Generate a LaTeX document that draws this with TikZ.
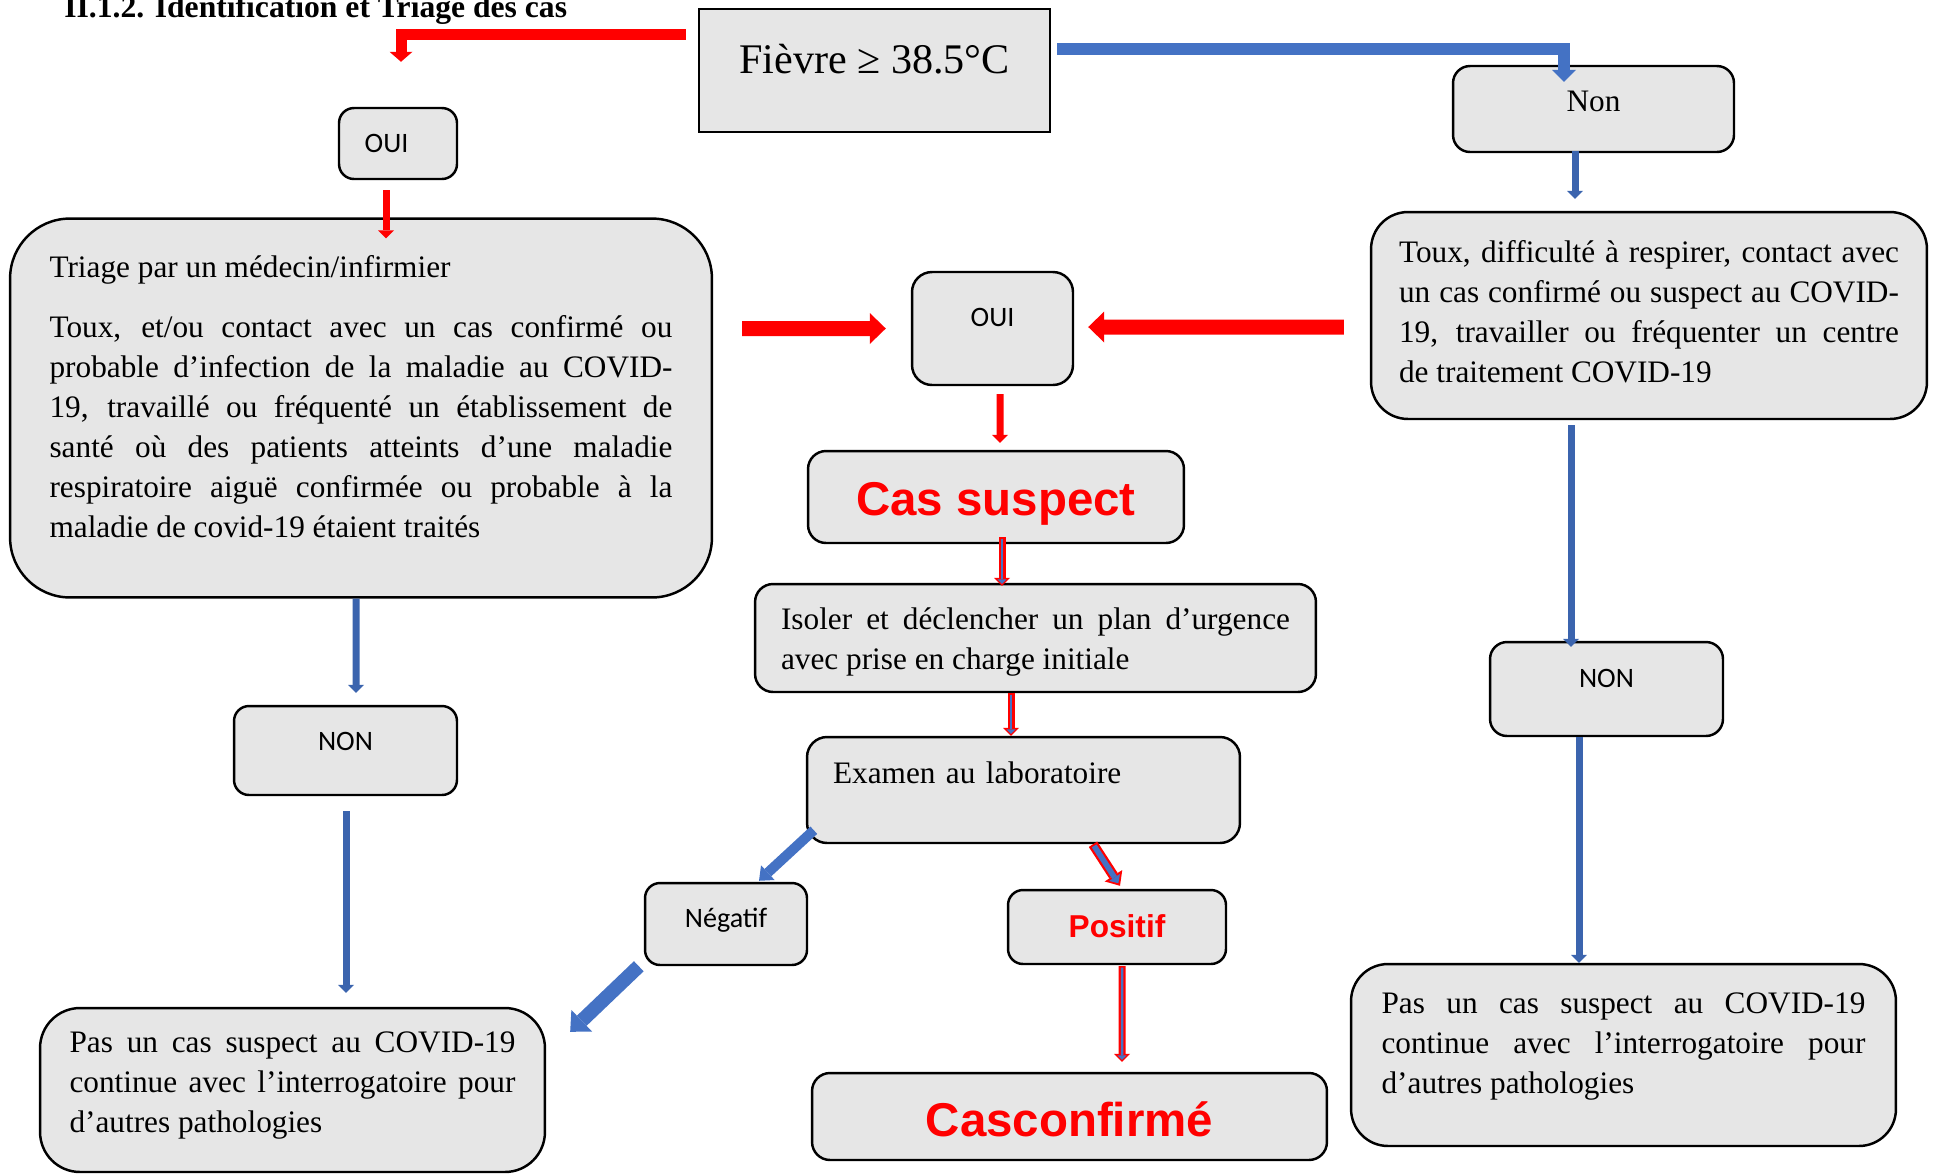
\documentclass[tikz,border=0pt]{standalone}
\usepackage{fontspec}
\setmainfont{Liberation Serif}
\newfontfamily\calibri{Carlito}
\newfontfamily\arial{Liberation Sans}
\usepackage{tikz}
\usetikzlibrary{arrows.meta, positioning, calc}
\definecolor{boxgray}{HTML}{E6E6E6}
\definecolor{arrowred}{HTML}{FF0000}
\definecolor{arrowblue}{HTML}{4472C4}
\definecolor{bluefine}{HTML}{3B64AE}
\hyphenpenalty=10000
\tolerance=10000
\tikzset{
    boite/.style={draw=black, fill=boxgray, line width=1.4pt, inner sep=0pt, rounded corners=#1},
    boite/.default=0.3cm,
    texte/.style={font=\fontsize{17.8}{22.8}\selectfont, align=justify, text height=0.44cm},
    calib/.style={font=\calibri\fontsize{16}{19}\selectfont},
    grosrouge/.style={font=\arial\bfseries\fontsize{27}{30}\selectfont, text=arrowred},
    flech/.style n args={3}{line width=#1, -{Triangle[width=#2, length=#3, line width=0pt]}},
    fine/.style={flech={0.14cm}{0.32cm}{0.16cm}},
    fat/.style={flech={0.3cm}{0.62cm}{0.32cm}},
    interieur/.style={draw=arrowblue, flech={0.05cm}{0.18cm}{0.09cm}, shorten <=0.03cm, shorten >=0.04cm}
}

\begin{document}
\begin{tikzpicture}[x=0.02cm, y=-0.02cm]
    \useasboundingbox (0,0) rectangle (1937,1174);

    \node[font=\bfseries\fontsize{18}{20}\selectfont, anchor=base west, inner sep=0pt] (titre) at (64,17) {II.1.2. Identification et Triage des cas};

    \node[boite, sharp corners, minimum width=7.02cm, minimum height=2.46cm,
          font=\fontsize{24}{29}\selectfont, text height=0.58cm, text depth=0.46cm] (fievre) at (874.5,70.3) {Fièvre ≥ 38.5°C};

    \node[boite, calib, minimum width=2.36cm, minimum height=1.42cm] (oui1) at (398,143.5) {OUI\hspace*{0.46cm}};
    \node[boite=0.34cm, minimum width=5.62cm, minimum height=1.72cm,
          font=\fontsize{17.8}{22.8}\selectfont, text height=0.41cm, text depth=0.33cm] (nontop) at (1593.5,109) {Non};

    \node[boite=1.2cm, texte, minimum width=14.04cm, minimum height=7.58cm, text width=12.46cm,
          text depth=5.68cm] (bigL) at (361,408) {
      Triage par un médecin/infirmier\par\vspace{0.4cm}
      Toux, et/ou contact avec un cas confirmé ou\linebreak probable d’infection de la maladie au COVID-\linebreak 19, travaillé ou fréquenté un établissement de\linebreak santé où des patients atteints d’une maladie\linebreak respiratoire aiguë confirmée ou probable à la\linebreak maladie de covid-19 étaient traités
    };
    \node[boite=0.74cm, texte, minimum width=11.12cm, minimum height=4.14cm, text width=10cm,
          text depth=2.56cm] (toux) at (1649,315.5) {
      Toux, difficulté à respirer, contact avec\linebreak un cas confirmé ou suspect au COVID-\linebreak 19, travailler ou fréquenter un centre\linebreak de traitement COVID-19
    };

    \node[boite=0.4cm, calib, minimum width=3.22cm, minimum height=2.26cm,
          text height=0.36cm, text depth=0.46cm] (oui2) at (992.5,328.5) {OUI};
    \node[boite=0.36cm, grosrouge, minimum width=7.52cm, minimum height=1.84cm,
          text height=0.72cm, text depth=0pt] (cassusp) at (996,497) {Cas suspect};
    \node[boite=0.36cm, texte, minimum width=11.22cm, minimum height=2.16cm, text width=10.18cm,
          text depth=0.78cm] (isoler) at (1035.5,638) {
      Isoler et déclencher un plan d’urgence\linebreak avec prise en charge initiale
    };
    \node[boite=0.4cm, minimum width=8.66cm, minimum height=2.12cm, text width=7.62cm, align=left,
          font=\fontsize{17.8}{22.8}\selectfont, text height=0.41cm, text depth=0.69cm] (examen) at (1023.5,790) {Examen au laboratoire};
    \node[boite, calib, minimum width=3.24cm, minimum height=1.64cm,
          text height=0.36cm, text depth=0.24cm] (negatif) at (726,924) {Négatif};
    \node[boite, font=\arial\bfseries\fontsize{18}{20}\selectfont, text=arrowred, minimum width=4.36cm, minimum height=1.48cm,
          text height=0.45cm, text depth=0.05cm] (positif) at (1117,927) {Positif};
    \node[boite=0.36cm, grosrouge, minimum width=10.3cm, minimum height=1.74cm,
          text height=0.78cm, text depth=0pt] (casconf) at (1069.5,1116.5) {Casconfirmé};

    \node[boite, calib, minimum width=4.46cm, minimum height=1.78cm,
          text height=0.36cm, text depth=0.38cm] (nonL) at (345.5,750.5) {NON};
    \node[boite=0.8cm, texte, minimum width=10.1cm, minimum height=3.28cm, text width=8.92cm,
          text depth=1.95cm] (pasL) at (292.5,1090) {
      Pas un cas suspect au COVID-19\linebreak continue avec l’interrogatoire pour\linebreak d’autres pathologies
    };
    \node[boite=0.34cm, calib, minimum width=4.66cm, minimum height=1.88cm,
          text height=0.36cm, text depth=0.44cm] (nonR) at (1606.5,689) {NON};
    \node[boite=0.74cm, texte, minimum width=10.9cm, minimum height=3.64cm, text width=9.68cm,
          text depth=2.1cm] (pasR) at (1623.5,1055) {
      Pas un cas suspect au COVID-19\linebreak continue avec l’interrogatoire pour\linebreak d’autres pathologies
    };

    \draw[arrowred, flech={0.22cm}{0.46cm}{0.2cm}] ($(fievre.west)+(-12,-36)$) -| ($(oui1.north)+(3,-45)$);
    \draw[arrowblue, flech={0.24cm}{0.48cm}{0.24cm}] ($(fievre.east)+(6,-21)$) -| ($(nontop.north)+(-29.5,17)$);

    \draw[arrowred, fine] ($(oui1.south)+(-12,10)$) -- ($(bigL.north)+(25,21)$);
    \draw[arrowred, fat] ($(bigL.east)+(29,-79.5)$) -- ($(oui2.west)+(-25,0)$);
    \draw[arrowred, fat] ($(toux.west)+(-26,11.5)$) -- ($(oui2.east)+(14,-1.5)$);
    \draw[arrowred, fine] ($(oui2.south)+(7.5,8)$) -- ($(cassusp.north)+(4,-7)$);

    \draw[arrowred, fine] ($(cassusp.south)+(6,-7)$) coordinate (c1) -- ($(isoler.north)+(-33.5,3)$) coordinate (c2);
    \draw[interieur] (c1) -- (c2);
    \draw[arrowred, fine] ($(isoler.south)+(-24.5,0)$) coordinate (c3) -- ($(examen.north)+(-12.5,0)$) coordinate (c4);
    \draw[interieur] (c3) -- (c4);
    \draw[arrowred, flech={0.2cm}{0.42cm}{0.24cm}] ($(examen.south)+(69.5,0)$) coordinate (c5) -- ($(positif.north)+(3,-3)$) coordinate (c6);
    \draw[draw=arrowblue, flech={0.11cm}{0.26cm}{0.14cm}, shorten <=0.04cm, shorten >=0.06cm] (c5) -- (c6);
    \draw[arrowred, fine] ($(positif.south)+(5,1)$) coordinate (c7) -- ($(casconf.north)+(52.5,-10)$) coordinate (c8);
    \draw[interieur] (c7) -- (c8);

    \draw[arrowblue, flech={0.2cm}{0.4cm}{0.24cm}] ($(examen.south west)+(8,-14)$) -- ($(negatif.north)+(33,-1)$);
    \draw[arrowblue, flech={0.28cm}{0.6cm}{0.32cm}] ($(negatif.south west)+(-5,0)$) -- ($(pasL.north east)+(24,25)$);

    \draw[bluefine, fine] ($(nontop.south)+(-18.5,-2)$) -- ($(toux.north)+(-74,-12)$);
    \draw[bluefine, fine] ($(bigL.south)+(-5,0)$) -- ($(nonL.north)+(10.5,-12)$);
    \draw[bluefine, fine] ($(nonL.south)+(0.5,15)$) -- ($(pasL.north)+(53.5,-14)$);
    \draw[bluefine, fine] ($(toux.south)+(-78,5)$) -- ($(nonR.north)+(-35.5,6)$);
    \draw[bluefine, fine] ($(nonR.south)+(-27.5,0)$) -- ($(pasR.north)+(-44.5,0)$);
\end{tikzpicture}
\end{document}
